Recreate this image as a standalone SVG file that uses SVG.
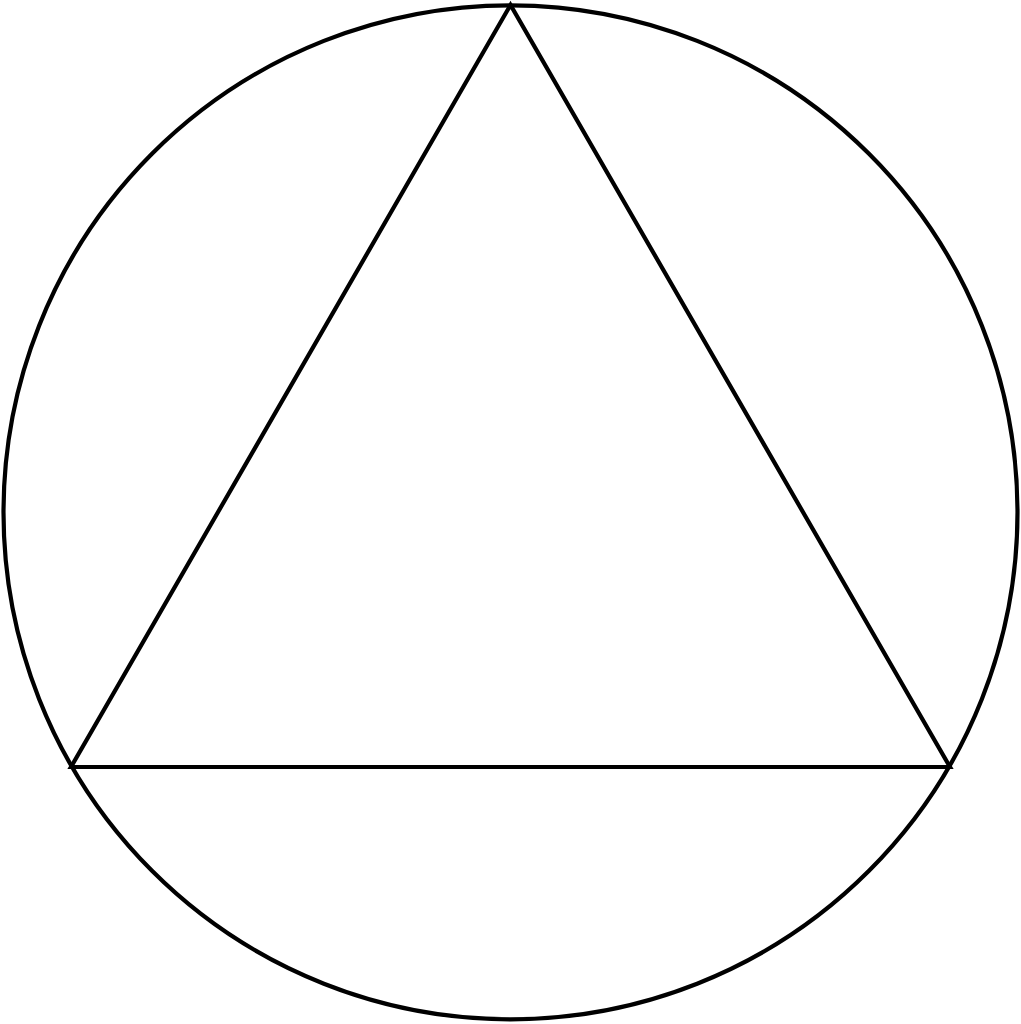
<svg xmlns="http://www.w3.org/2000/svg" width="1021" height="1024" viewBox="0 0 1021 1024">
<style>.s{fill:none;stroke:#000;stroke-width:4.2}</style>
<rect width="1021" height="1024" fill="#fff"/>
<circle class="s" cx="510.5" cy="512.3" r="507"/>
<polygon class="s" points="510.5,5 71,767 950,767" stroke-linejoin="miter"/>
</svg>
